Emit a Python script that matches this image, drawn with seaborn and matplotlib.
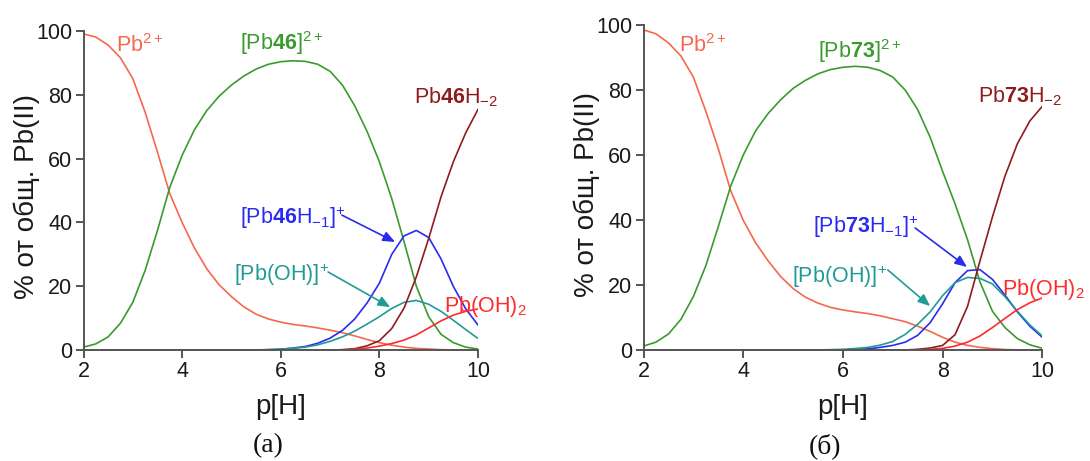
import matplotlib
matplotlib.use("Agg")
import matplotlib.pyplot as plt
import numpy as np
import pandas as pd
import seaborn as sns

# ---------------- data ----------------
PH = [2.0, 2.25, 2.5, 2.75, 3.0, 3.25, 3.5, 3.75, 4.0, 4.25, 4.5, 4.75, 5.0, 5.25, 5.5, 5.75,
      6.0, 6.25, 6.5, 6.75, 7.0, 7.25, 7.5, 7.75, 8.0, 8.25, 8.5, 8.75, 9.0, 9.25, 9.5, 9.75, 10.0]

# panel (a) : ligand 46
a_pb = [99, 98, 95.5, 91.5, 85, 74.5, 62, 49, 40, 32, 25.5, 20.5, 16.8, 13.6, 11.3, 9.8,
        8.8, 8.1, 7.6, 7.0, 6.3, 5.5, 4.5, 3.4, 2.4, 1.6, 1.0, 0.6, 0.4, 0.2, 0.1, 0.05, 0.02]
a_pbL = [1, 2, 4.2, 8.5, 15, 25, 37.5, 51, 61, 69, 75, 79.5, 83, 85.8, 88, 89.5,
         90.3, 90.6, 90.4, 89.5, 87.3, 83, 76.5, 68.5, 59, 47.5, 34, 20, 10.5, 5, 2.4, 1.0, 0.4]
a_pbLH1 = [0, 0, 0, 0, 0, 0, 0, 0, 0, 0, 0, 0, 0, 0.05, 0.1, 0.2,
           0.35, 0.7, 1.2, 2.2, 3.8, 6.2, 9.8, 14.8, 21, 30, 35.8, 37.5, 35.3, 28.6, 20, 13, 7.9]
a_pboh = [0, 0, 0, 0, 0, 0, 0, 0, 0, 0, 0, 0, 0, 0.05, 0.1, 0.2,
          0.35, 0.6, 1.0, 1.7, 2.8, 4.2, 6.0, 8.2, 10.5, 13.1, 15.0, 15.6, 14.4, 12.2, 9.4, 6.5, 3.7]
a_pbLH2 = [0, 0, 0, 0, 0, 0, 0, 0, 0, 0, 0, 0, 0, 0, 0, 0,
           0, 0, 0, 0.02, 0.05, 0.2, 0.5, 1.4, 3.0, 6.8, 13.2, 23, 35, 48, 59, 68, 75.4]
a_pboh2 = [0, 0, 0, 0, 0, 0, 0, 0, 0, 0, 0, 0, 0, 0, 0, 0,
           0, 0, 0, 0, 0.05, 0.15, 0.35, 0.7, 1.3, 2.1, 3.2, 4.8, 7.0, 9.2, 11.0, 12.2, 12.9]

# panel (б) : ligand 73
b_pb = [98.5, 97.3, 94.5, 90.5, 84, 73.5, 62, 49, 40, 33, 27.5, 22.7, 19, 16.3, 14.5, 13.2,
        12.4, 11.8, 11.3, 10.6, 9.7, 8.8, 7.4, 5.8, 4.0, 2.5, 1.5, 0.9, 0.5, 0.25, 0.12, 0.05, 0.02]
b_pbL = [1.3, 2.5, 5, 9.5, 16.5, 26, 38, 50.5, 60, 67.5, 72.8, 77, 80.5, 83, 85, 86.3,
         87, 87.3, 87, 86, 84, 80, 74, 65.5, 55, 45, 34, 21, 12, 7, 3.6, 1.7, 0.6]
b_pbLH1 = [0, 0, 0, 0, 0, 0, 0, 0, 0, 0, 0, 0, 0, 0.02, 0.05, 0.08,
           0.12, 0.25, 0.45, 0.9, 1.5, 2.5, 4.6, 8.5, 14.3, 20.8, 24.5, 24.8, 21.8, 17, 11.8, 7.4, 4.0]
b_pboh = [0, 0, 0, 0, 0, 0, 0, 0, 0, 0, 0, 0, 0, 0.05, 0.1, 0.2,
          0.3, 0.55, 0.9, 1.6, 2.7, 4.9, 8.0, 11.8, 16.8, 20.8, 22.4, 22.1, 20.4, 16.5, 12.0, 7.8, 4.4]
b_pbLH2 = [0, 0, 0, 0, 0, 0, 0, 0, 0, 0, 0, 0, 0, 0, 0, 0,
           0, 0, 0, 0, 0, 0.1, 0.3, 0.7, 1.5, 4.8, 13.5, 27.5, 41, 53.5, 63.5, 70.5, 75]
b_pboh2 = [0, 0, 0, 0, 0, 0, 0, 0, 0, 0, 0, 0, 0, 0, 0, 0,
           0, 0, 0, 0, 0, 0.05, 0.15, 0.3, 0.6, 1.3, 2.5, 4.4, 7.0, 9.8, 12.5, 14.6, 16.1]

SPECIES = ["Pb", "PbL", "PbLH1", "PbOH", "PbLH2", "PbOH2"]
COLORS = {"Pb": "#f5684e", "PbL": "#3a9a2e", "PbLH1": "#2b2bf0",
          "PbOH": "#219a96", "PbLH2": "#8e1c1c", "PbOH2": "#ff2a2a"}

# ---------------- style ----------------
sns.set_theme(style="ticks")
plt.rcParams["font.family"] = ["Liberation Sans", "DejaVu Sans"]
plt.rcParams["mathtext.fontset"] = "custom"
plt.rcParams["mathtext.rm"] = "Liberation Sans"
plt.rcParams["mathtext.it"] = "Liberation Sans:italic"
plt.rcParams["mathtext.bf"] = "Liberation Sans:bold"

fig = plt.figure(figsize=(10.9, 4.61), dpi=100)
W, H = 1090.0, 461.0
ax1 = fig.add_axes([83.5 / W, 1 - 350.3 / H, (478 - 83.5) / W, (350.3 - 30.7) / H])
ax2 = fig.add_axes([643.5 / W, 1 - 350.3 / H, (1042.3 - 643.5) / W, (350.3 - 25) / H])


def panel(ax, series, labels, arrows, caption, cap_x, xl_y, yl_x):
    df = pd.concat([pd.DataFrame({"pH": PH, "val": v, "sp": s})
                    for s, v in zip(SPECIES, series)], ignore_index=True)
    sns.lineplot(data=df, x="pH", y="val", hue="sp", palette=COLORS, hue_order=SPECIES,
                 legend=False, ax=ax, linewidth=1.2, sort=False)
    ax.set_xlim(2, 10)
    ax.set_ylim(0, 100)
    ax.set_xticks([2, 4, 6, 8, 10])
    ax.set_yticks([0, 20, 40, 60, 80, 100])
    for s in ["top", "right"]:
        ax.spines[s].set_visible(False)
    for s in ["left", "bottom"]:
        ax.spines[s].set_color("#555555")
        ax.spines[s].set_linewidth(1.4)
    ax.tick_params(axis="both", colors="#555555", labelcolor="#1a1a1a", length=6,
                   width=1.4, labelsize=15.5, pad=2)
    ax.set_xlabel("p[H]", fontsize=20, color="#1a1a1a")
    ax.set_ylabel("% от общ. Pb(II)", fontsize=20, color="#1a1a1a")
    ax.xaxis.set_label_coords(0.5, xl_y)
    ax.yaxis.set_label_coords(yl_x, 0.48)
    for (txt, x, y, sp) in labels:
        ax.text(x, y, txt, color=COLORS[sp], fontsize=15.5, ha="left", va="baseline")
    for (x0, y0, x1, y1, sp) in arrows:
        ax.annotate("", xy=(x1, y1), xytext=(x0, y0),
                    arrowprops=dict(arrowstyle="-|>,head_length=0.6,head_width=0.25",
                                    color=COLORS[sp], lw=1.2, shrinkA=0, shrinkB=0))
    fig.text(cap_x, 1 - 446 / H, caption, fontsize=20, family="Liberation Serif",
             ha="center", va="center", color="#111111")


panel(ax1, [a_pb, a_pbL, a_pbLH1, a_pboh, a_pbLH2, a_pboh2],
      [(r"Pb$^{2+}$", 2.66, 93.3, "Pb"),
       (r"[Pb$\mathbf{46}$]$^{2+}$", 5.18, 94.0, "PbL"),
       (r"Pb$\mathbf{46}$H$_{-2}$", 8.70, 77.3, "PbLH2"),
       (r"[Pb$\mathbf{46}$H$_{-1}$]$^{+}$", 5.18, 39.5, "PbLH1"),
       (r"[Pb(OH)]$^{+}$", 5.06, 21.7, "PbOH"),
       (r"Pb(OH)$_{2}$", 9.31, 12.0, "PbOH2")],
      [(7.24, 42.3, 8.32, 33.9, "PbLH1"), (6.96, 24.5, 8.22, 13.5, "PbOH")],
      "(a)", 268 / W, -0.137, -0.11)

panel(ax2, [b_pb, b_pbL, b_pbLH1, b_pboh, b_pbLH2, b_pboh2],
      [(r"Pb$^{2+}$", 2.71, 91.7, "Pb"),
       (r"[Pb$\mathbf{73}$]$^{2+}$", 5.50, 89.9, "PbL"),
       (r"Pb$\mathbf{73}$H$_{-2}$", 8.71, 76.3, "PbLH2"),
       (r"[Pb$\mathbf{73}$H$_{-1}$]$^{+}$", 5.40, 36.0, "PbLH1"),
       (r"[Pb(OH)]$^{+}$", 4.98, 20.7, "PbOH"),
       (r"Pb(OH)$_{2}$", 9.19, 17.0, "PbOH2")],
      [(7.45, 37.6, 8.49, 25.6, "PbLH1"), (6.90, 24.7, 7.75, 13.6, "PbOH")],
      "(б)", 825 / W, -0.134, -0.108)

fig.savefig("out.png", dpi=100)
